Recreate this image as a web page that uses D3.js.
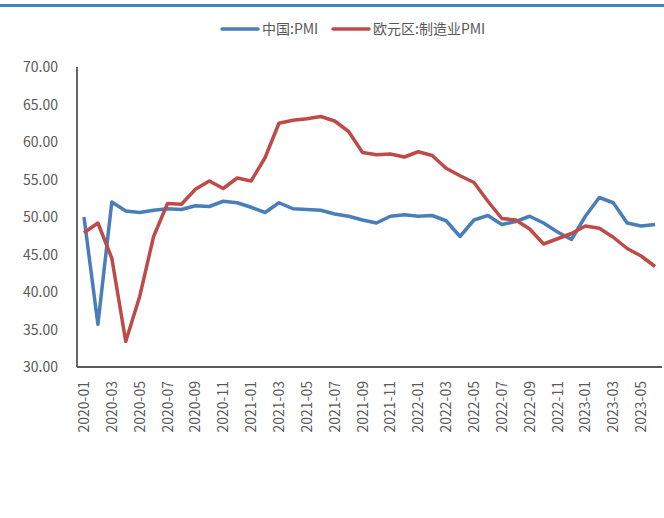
<!DOCTYPE html>
<html lang="zh">

<head>
    <meta charset="utf-8" />
    <title>PMI</title>
    <script src="https://cdn.jsdelivr.net/npm/d3@7"></script>
    <style>
        body { margin: 0; background: #fff; }
        text { font-family: "Noto Sans CJK SC", "Open Sans", sans-serif; }
    </style>
</head>

<body>
    <script>
        // months 2020-01 .. 2023-06
        var months = [];
        [2020, 2021, 2022, 2023].forEach(function(y) {
            for (var m = 1; m <= 12; m++) {
                if (y === 2023 && m > 6) break;
                months.push(y + "-" + (m < 10 ? "0" + m : m));
            }
        });

        var chinaPMI = [50.0, 35.7, 52.0, 50.8, 50.6, 50.9, 51.1, 51.0, 51.5, 51.4, 52.1, 51.9,
            51.3, 50.6, 51.9, 51.1, 51.0, 50.9, 50.4, 50.1, 49.6, 49.2, 50.1, 50.3,
            50.1, 50.2, 49.5, 47.4, 49.6, 50.2, 49.0, 49.4, 50.1, 49.2, 48.0, 47.0,
            50.1, 52.6, 51.9, 49.2, 48.8, 49.0];
        var euroPMI = [47.9, 49.2, 44.5, 33.4, 39.4, 47.4, 51.8, 51.7, 53.7, 54.8, 53.8, 55.2,
            54.8, 57.9, 62.5, 62.9, 63.1, 63.4, 62.8, 61.4, 58.6, 58.3, 58.4, 58.0,
            58.7, 58.2, 56.5, 55.5, 54.6, 52.1, 49.8, 49.6, 48.4, 46.4, 47.1, 47.8,
            48.8, 48.5, 47.3, 45.8, 44.8, 43.4];
        var yTicks = [30, 35, 40, 45, 50, 55, 60, 65, 70];
        var seriesNames = ["中国:PMI", "欧元区:制造业PMI"];
        var colors = ["#4a7ebb", "#be4b48"];

        var w = 664, h = 518;
        var svg = d3.select("body").append("svg").attr("width", w).attr("height", h);

        // top banner line
        svg.append("rect").attr("x", 0).attr("y", 4).attr("width", w).attr("height", 3)
            .attr("fill", "#3d85c6");

        var x = d3.scaleBand().domain(months).range([77, 662]);
        var y = d3.scaleLinear().domain([30, 70]).range([367, 67]);

        // y axis
        svg.append("line").attr("x1", 77).attr("x2", 77).attr("y1", y(70)).attr("y2", y(30))
            .attr("stroke", "#000").attr("stroke-width", 1.2);
        svg.selectAll(".ylab").data(yTicks).enter().append("text")
            .attr("x", 58).attr("y", function(d) { return y(d) + 5; })
            .attr("text-anchor", "end").attr("font-size", "14px").attr("fill", "#595959")
            .text(function(d) { return d.toFixed(2); });

        // x axis
        svg.append("line").attr("x1", 77).attr("x2", 662).attr("y1", y(30)).attr("y2", y(30))
            .attr("stroke", "#595959").attr("stroke-width", 2);
        svg.selectAll(".xlab").data(months.filter(function(d, i) { return i % 2 === 0; }))
            .enter().append("text")
            .attr("transform", function(d) {
                return "translate(" + (x(d) + x.bandwidth() / 2 + 5) + ",381) rotate(-90)";
            })
            .attr("text-anchor", "end").attr("font-size", "14px").attr("fill", "#595959")
            .text(function(d) { return d; });

        var line = d3.line()
            .x(function(d, i) { return x(months[i]) + x.bandwidth() / 2; })
            .y(function(d) { return y(d); });

        [chinaPMI, euroPMI].forEach(function(s, k) {
            svg.append("path").datum(s).attr("d", line)
                .attr("fill", "none").attr("stroke", colors[k]).attr("stroke-width", 3.5)
                .attr("stroke-linejoin", "round");
        });

        // legend
        var legX = [222, 333];
        seriesNames.forEach(function(n, k) {
            svg.append("line").attr("x1", legX[k]).attr("x2", legX[k] + 36)
                .attr("y1", 29).attr("y2", 29)
                .attr("stroke", colors[k]).attr("stroke-width", 3.5).attr("stroke-linecap", "round");
            svg.append("text").attr("x", legX[k] + 40).attr("y", 34)
                .attr("font-size", "14px").attr("fill", "#595959").text(n);
        });
    </script>
</body>

</html>
